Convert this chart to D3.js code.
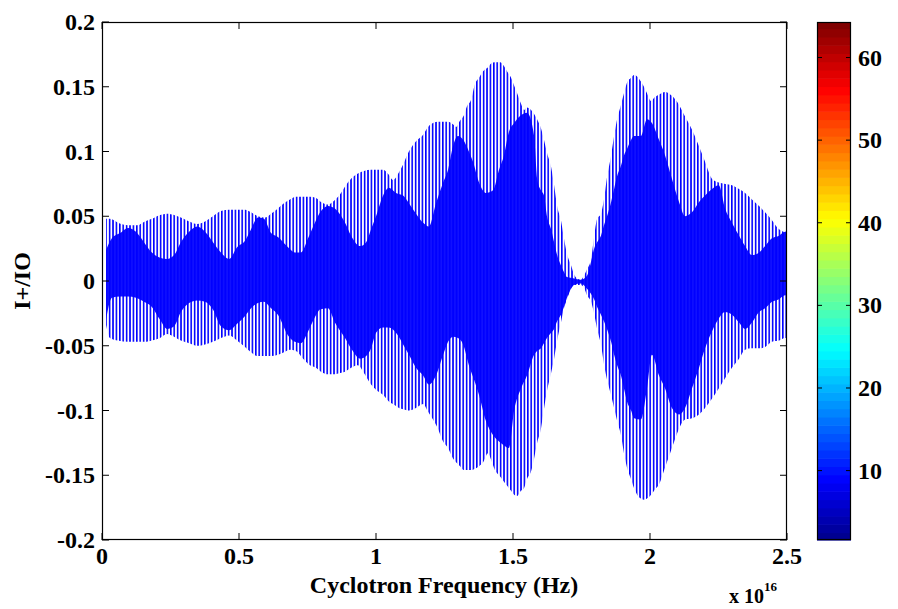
<!DOCTYPE html>
<html>
<head>
<meta charset="utf-8">
<script src="https://cdn.jsdelivr.net/npm/d3@7"></script>
<style>
  html, body { margin: 0; padding: 0; background: #ffffff; }
  svg { display: block; }
  text { font-family: "Liberation Serif", "Times New Roman", serif; font-weight: bold; fill: #000; }
</style>
</head>
<body>
<svg id="chart" width="898" height="609"></svg>
<script>
// Envelope of the signal I+/IO versus cyclotron frequency (x 1e16 Hz).
// Outer envelope: extent reached by the tall strokes.
const freqOuter = [0.015,0.029,0.058,0.095,0.128,0.157,0.182,0.212,0.237,0.263,0.288,0.318,0.347,0.376,0.405,0.434,0.464,0.493,0.522,0.544,0.569,0.595,0.617,0.642,0.664,0.686,0.708,0.734,0.759,0.781,0.799,0.825,0.847,0.869,0.887,0.909,0.934,0.956,0.982,1.000,1.026,1.047,1.062,1.084,1.099,1.120,1.146,1.172,1.190,1.208,1.226,1.245,1.263,1.281,1.292,1.307,1.321,1.332,1.347,1.361,1.376,1.391,1.409,1.420,1.434,1.453,1.467,1.478,1.493,1.504,1.515,1.529,1.540,1.551,1.566,1.577,1.588,1.602,1.613,1.624,1.639,1.650,1.661,1.675,1.686,1.697,1.712,1.723,1.734,1.748,1.759,1.770,1.785,1.796,1.807,1.821,1.832,1.843,1.858,1.869,1.880,1.894,1.905,1.916,1.931,1.942,1.953,1.967,1.978,1.989,2.004,2.018,2.033,2.055,2.080,2.106,2.128,2.153,2.179,2.201,2.226,2.251,2.274,2.299,2.325,2.347,2.372,2.398,2.420,2.445,2.471,2.493,2.500];
const outerUpper = [0.048,0.048,0.045,0.043,0.043,0.046,0.048,0.051,0.052,0.051,0.049,0.046,0.044,0.046,0.050,0.054,0.055,0.055,0.055,0.053,0.050,0.049,0.052,0.056,0.060,0.063,0.065,0.065,0.065,0.064,0.061,0.059,0.062,0.067,0.073,0.079,0.083,0.085,0.086,0.086,0.086,0.082,0.078,0.084,0.090,0.100,0.108,0.113,0.119,0.122,0.123,0.123,0.123,0.121,0.119,0.124,0.128,0.135,0.140,0.152,0.157,0.162,0.165,0.168,0.169,0.169,0.166,0.162,0.157,0.151,0.145,0.137,0.132,0.134,0.132,0.129,0.125,0.118,0.109,0.099,0.088,0.074,0.058,0.047,0.033,0.021,0.012,0.005,0.002,0.001,0.004,0.009,0.017,0.034,0.048,0.052,0.063,0.080,0.097,0.112,0.125,0.136,0.145,0.153,0.157,0.159,0.158,0.154,0.150,0.145,0.139,0.142,0.144,0.146,0.143,0.136,0.127,0.117,0.104,0.092,0.079,0.076,0.075,0.074,0.071,0.068,0.063,0.058,0.053,0.047,0.040,0.038,0.038];
const outerLower = [-0.034,-0.044,-0.046,-0.047,-0.047,-0.047,-0.046,-0.044,-0.041,-0.043,-0.046,-0.048,-0.050,-0.049,-0.047,-0.044,-0.042,-0.046,-0.051,-0.055,-0.058,-0.058,-0.058,-0.057,-0.055,-0.053,-0.054,-0.060,-0.065,-0.067,-0.070,-0.072,-0.072,-0.071,-0.070,-0.067,-0.065,-0.071,-0.080,-0.084,-0.088,-0.093,-0.095,-0.098,-0.099,-0.100,-0.098,-0.095,-0.101,-0.107,-0.114,-0.124,-0.129,-0.137,-0.140,-0.143,-0.146,-0.146,-0.146,-0.145,-0.143,-0.140,-0.133,-0.138,-0.146,-0.151,-0.155,-0.158,-0.162,-0.165,-0.166,-0.162,-0.160,-0.153,-0.147,-0.137,-0.125,-0.114,-0.099,-0.085,-0.071,-0.060,-0.046,-0.032,-0.021,-0.014,-0.006,-0.003,-0.003,-0.003,-0.005,-0.011,-0.016,-0.025,-0.037,-0.049,-0.064,-0.076,-0.088,-0.098,-0.108,-0.119,-0.133,-0.144,-0.153,-0.160,-0.165,-0.168,-0.169,-0.168,-0.165,-0.161,-0.157,-0.144,-0.129,-0.114,-0.107,-0.106,-0.103,-0.098,-0.091,-0.083,-0.075,-0.067,-0.060,-0.053,-0.052,-0.052,-0.051,-0.047,-0.046,-0.044,-0.044];

// Inner envelope: the densely filled core of the trace.
const freqInner = [0.015,0.036,0.066,0.095,0.124,0.153,0.182,0.212,0.237,0.263,0.288,0.318,0.347,0.376,0.405,0.434,0.464,0.493,0.522,0.544,0.569,0.591,0.617,0.642,0.679,0.704,0.726,0.752,0.777,0.796,0.825,0.850,0.887,0.909,0.942,0.964,0.982,1.000,1.026,1.047,1.073,1.099,1.120,1.146,1.172,1.193,1.219,1.245,1.263,1.281,1.299,1.318,1.339,1.354,1.376,1.401,1.427,1.449,1.467,1.485,1.504,1.529,1.551,1.577,1.588,1.602,1.613,1.624,1.639,1.650,1.661,1.675,1.686,1.697,1.723,1.748,1.770,1.785,1.796,1.807,1.821,1.832,1.843,1.858,1.869,1.880,1.894,1.905,1.916,1.931,1.942,1.967,1.989,2.007,2.033,2.055,2.080,2.106,2.128,2.153,2.179,2.201,2.226,2.251,2.274,2.299,2.325,2.347,2.372,2.398,2.420,2.445,2.471,2.493,2.500];
const innerUpper = [0.024,0.033,0.037,0.041,0.038,0.030,0.022,0.018,0.017,0.020,0.030,0.038,0.042,0.038,0.030,0.022,0.017,0.026,0.031,0.040,0.049,0.048,0.037,0.034,0.026,0.022,0.022,0.033,0.045,0.053,0.058,0.056,0.045,0.035,0.027,0.030,0.040,0.050,0.066,0.072,0.068,0.066,0.060,0.052,0.045,0.042,0.060,0.076,0.086,0.104,0.112,0.109,0.100,0.092,0.076,0.068,0.070,0.086,0.097,0.115,0.122,0.128,0.130,0.112,0.079,0.070,0.066,0.050,0.040,0.030,0.020,0.012,0.007,0.003,0.002,0.001,0.004,0.015,0.025,0.030,0.035,0.043,0.050,0.061,0.071,0.081,0.089,0.097,0.102,0.109,0.112,0.112,0.125,0.122,0.109,0.097,0.079,0.061,0.050,0.053,0.061,0.066,0.071,0.074,0.056,0.045,0.035,0.027,0.020,0.022,0.027,0.033,0.035,0.038,0.038];
const innerLower = [-0.030,-0.013,-0.012,-0.012,-0.013,-0.016,-0.020,-0.030,-0.037,-0.035,-0.024,-0.017,-0.015,-0.016,-0.022,-0.035,-0.038,-0.033,-0.027,-0.021,-0.017,-0.016,-0.021,-0.026,-0.042,-0.047,-0.048,-0.039,-0.028,-0.022,-0.021,-0.032,-0.044,-0.052,-0.060,-0.058,-0.052,-0.040,-0.036,-0.036,-0.040,-0.049,-0.057,-0.067,-0.073,-0.080,-0.073,-0.057,-0.047,-0.043,-0.044,-0.049,-0.065,-0.074,-0.088,-0.108,-0.119,-0.124,-0.127,-0.129,-0.100,-0.083,-0.073,-0.057,-0.054,-0.052,-0.048,-0.044,-0.040,-0.037,-0.031,-0.026,-0.020,-0.013,-0.003,-0.002,-0.006,-0.010,-0.014,-0.020,-0.026,-0.031,-0.037,-0.047,-0.057,-0.065,-0.073,-0.083,-0.093,-0.100,-0.106,-0.107,-0.083,-0.057,-0.073,-0.083,-0.098,-0.103,-0.098,-0.083,-0.067,-0.052,-0.039,-0.029,-0.024,-0.026,-0.032,-0.037,-0.032,-0.024,-0.021,-0.016,-0.014,-0.011,-0.011];

// Axis ticks
const xTicks = [0, 0.5, 1, 1.5, 2, 2.5];
const xTickLabels = ["0", "0.5", "1", "1.5", "2", "2.5"];
const yTicks = [0.2, 0.15, 0.1, 0.05, 0, -0.05, -0.1, -0.15, -0.2];
const yTickLabels = ["0.2", "0.15", "0.1", "0.05", "0", "-0.05", "-0.1", "-0.15", "-0.2"];
const cbTicks = [10, 20, 30, 40, 50, 60];
const cbRange = [1.6, 64.3];

const FONT = 24;
const svg = d3.select("#chart");
const plot = { left: 102, right: 787, top: 22, bottom: 540 };
const cb = { left: 817, right: 851, top: 22, bottom: 540 };

const x = d3.scaleLinear().domain([0, 2.5]).range([plot.left, plot.right]);
const y = d3.scaleLinear().domain([-0.2, 0.2]).range([plot.bottom, plot.top]);

const defs = svg.append("defs");
// Vertical hatching for the sparse outer strokes
const pat = defs.append("pattern")
  .attr("id", "strokes")
  .attr("patternUnits", "userSpaceOnUse")
  .attr("x", x(0.015) - 0.7)
  .attr("width", 3.4)
  .attr("height", 20);
pat.append("rect").attr("x", 0).attr("y", 0).attr("width", 1.6).attr("height", 20).attr("fill", "#0000ff");

// Dense core, with faint gaps between strokes
const pat2 = defs.append("pattern")
  .attr("id", "core")
  .attr("patternUnits", "userSpaceOnUse")
  .attr("x", x(0.015) - 0.7)
  .attr("width", 3.4)
  .attr("height", 20);
pat2.append("rect").attr("x", 0).attr("y", 0).attr("width", 3.4).attr("height", 20).attr("fill", "#0000ff");
pat2.append("rect").attr("x", 2.3).attr("y", 0).attr("width", 0.6).attr("height", 20).attr("fill", "#2a2aff");

defs.append("clipPath").attr("id", "plotclip")
  .append("rect").attr("x", plot.left).attr("y", plot.top)
  .attr("width", plot.right - plot.left).attr("height", plot.bottom - plot.top);

const outerData = freqOuter.map((f, i) => ({ f, hi: outerUpper[i], lo: outerLower[i] }));
const innerData = freqInner.map((f, i) => ({ f, hi: innerUpper[i], lo: innerLower[i] }));

const area = d3.area()
  .x(d => x(d.f))
  .y0(d => y(d.lo))
  .y1(d => y(d.hi))
  .curve(d3.curveMonotoneX);

const g = svg.append("g").attr("clip-path", "url(#plotclip)");
g.append("path").datum(outerData).attr("d", area).attr("fill", "url(#strokes)");
g.append("path").datum(innerData).attr("d", area).attr("fill", "url(#core)");

// Axes box with inward ticks on all four sides
const axisG = svg.append("g");
const tickLen = 7;
xTicks.forEach(t => {
  const px = x(t);
  axisG.append("line").attr("x1", px).attr("x2", px).attr("y1", plot.bottom).attr("y2", plot.bottom - tickLen).attr("stroke", "#000").attr("stroke-width", 1);
  axisG.append("line").attr("x1", px).attr("x2", px).attr("y1", plot.top).attr("y2", plot.top + tickLen).attr("stroke", "#000").attr("stroke-width", 1);
});
yTicks.forEach(t => {
  const py = y(t);
  axisG.append("line").attr("x1", plot.left).attr("x2", plot.left + tickLen).attr("y1", py).attr("y2", py).attr("stroke", "#000").attr("stroke-width", 1);
  axisG.append("line").attr("x1", plot.right).attr("x2", plot.right - tickLen).attr("y1", py).attr("y2", py).attr("stroke", "#000").attr("stroke-width", 1);
});
axisG.append("rect")
  .attr("x", plot.left + 0.5).attr("y", plot.top + 0.5)
  .attr("width", plot.right - plot.left - 1).attr("height", plot.bottom - plot.top - 1)
  .attr("fill", "none").attr("stroke", "#000").attr("stroke-width", 1.2);

// Tick labels
xTicks.forEach((t, i) => {
  svg.append("text").attr("x", x(t)).attr("y", 564)
    .attr("text-anchor", "middle").attr("font-size", FONT).text(xTickLabels[i]);
});
yTicks.forEach((t, i) => {
  svg.append("text").attr("x", 95).attr("y", y(t) + 8)
    .attr("text-anchor", "end").attr("font-size", FONT).text(yTickLabels[i]);
});

// Axis titles
svg.append("text").attr("x", 444).attr("y", 593)
  .attr("text-anchor", "middle").attr("font-size", FONT).text("Cyclotron Frequency (Hz)");
svg.append("text")
  .attr("transform", "translate(30," + y(0) + ") rotate(-90)")
  .attr("text-anchor", "middle").attr("font-size", FONT).text("I+/IO");
const expo = svg.append("text").attr("x", 729).attr("y", 603).attr("font-size", 20);
expo.append("tspan").text("x 10");
expo.append("tspan").attr("dy", -12).attr("font-size", 13).text("16");

// Jet colorbar
function jet(t) {
  const r = Math.max(0, Math.min(1, 1.5 - Math.abs(4 * t - 3)));
  const gg = Math.max(0, Math.min(1, 1.5 - Math.abs(4 * t - 2)));
  const b = Math.max(0, Math.min(1, 1.5 - Math.abs(4 * t - 1)));
  return d3.rgb(r * 255, gg * 255, b * 255);
}
const cy = d3.scaleLinear().domain(cbRange).range([cb.bottom, cb.top]);
const nColors = 64;
d3.range(1, nColors + 1).forEach(k => {
  const lo = Math.max(cbRange[0], k - 0.5);
  const hi = Math.min(cbRange[1], k + 0.5);
  if (hi <= lo) return;
  svg.append("rect")
    .attr("x", cb.left).attr("width", cb.right - cb.left)
    .attr("y", cy(hi)).attr("height", cy(lo) - cy(hi) + 0.6)
    .attr("fill", jet((k - 1) / (nColors - 1)));
});
cbTicks.forEach(t => {
  const py = cy(t);
  svg.append("line").attr("x1", cb.left).attr("x2", cb.left + 5).attr("y1", py).attr("y2", py).attr("stroke", "#000");
  svg.append("line").attr("x1", cb.right).attr("x2", cb.right - 5).attr("y1", py).attr("y2", py).attr("stroke", "#000");
  svg.append("text").attr("x", cb.right + 7).attr("y", py + 8)
    .attr("font-size", FONT).text(String(t));
});
svg.append("rect")
  .attr("x", cb.left + 0.5).attr("y", cb.top + 0.5)
  .attr("width", cb.right - cb.left - 1).attr("height", cb.bottom - cb.top - 1)
  .attr("fill", "none").attr("stroke", "#000").attr("stroke-width", 1.2);
</script>
</body>
</html>
